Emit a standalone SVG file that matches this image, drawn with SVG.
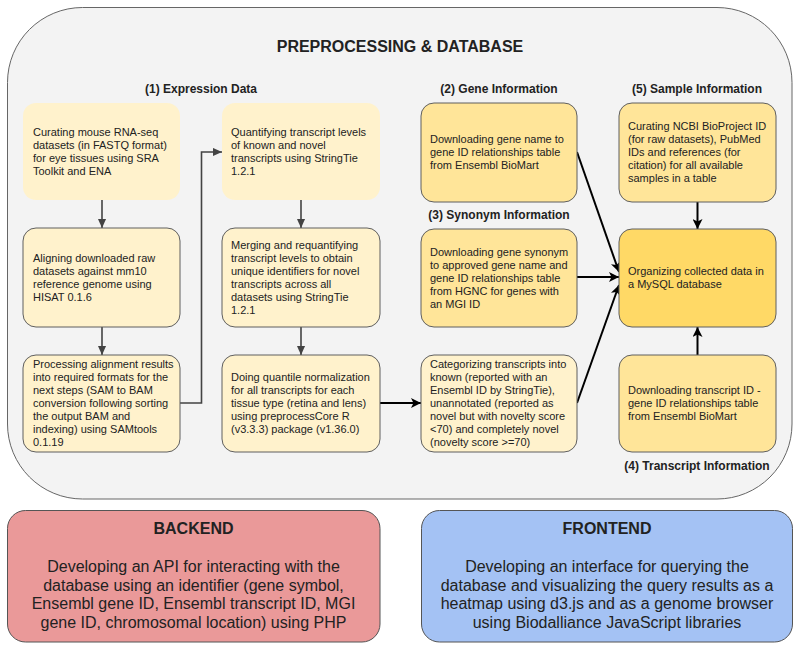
<svg xmlns="http://www.w3.org/2000/svg" width="800" height="649" viewBox="0 0 800 649">
<defs>
<style>
text{font-family:"Liberation Sans",Arial,sans-serif;fill:#222}
.t{font-size:11px}
.h{font-size:12px;font-weight:bold;text-anchor:middle}
.big{font-size:16px;font-weight:bold;text-anchor:middle}
.body{font-size:16px;text-anchor:middle}
.c1{fill:#fff2cc}
.c2{fill:#fff2cc;stroke:#5f5f5f;stroke-width:1}
.c3{fill:#ffe599;stroke:#5f5f5f;stroke-width:1}
.c4{fill:#ffd966;stroke:#5f5f5f;stroke-width:1}
.g{stroke:#434343;stroke-width:1.6;fill:none}
.k{stroke:#000;stroke-width:2;fill:none}
</style>
<marker id="ag" viewBox="0 0 10 10" refX="10" refY="5" markerWidth="10" markerHeight="9" orient="auto" markerUnits="userSpaceOnUse"><path d="M0,0.5 L10,5 L0,9.5 z" fill="#434343"/></marker>
<marker id="ak" viewBox="0 0 10 10" refX="10" refY="5" markerWidth="11" markerHeight="10" orient="auto" markerUnits="userSpaceOnUse"><path d="M0,0 L10,5 L0,10 L2.5,5 z" fill="#000"/></marker>
</defs>

<g id="container">
<rect x="7.5" y="7.5" width="784.5" height="491.5" rx="75" ry="75" fill="#f3f3f3" stroke="#666" stroke-width="1"/>
<text class="big" x="400" y="52">PREPROCESSING &amp; DATABASE</text>
<text class="h" x="201" y="93">(1) Expression Data</text>
<text class="h" x="499" y="93">(2) Gene Information</text>
<text class="h" x="697" y="93">(5) Sample Information</text>
<text class="h" x="499" y="219">(3) Synonym Information</text>
<text class="h" x="697" y="470">(4) Transcript Information</text>
</g>

<g id="connectors">
<line class="g" x1="102" y1="200" x2="102" y2="228" marker-end="url(#ag)"/>
<line class="g" x1="102" y1="327" x2="102" y2="355" marker-end="url(#ag)"/>
<line class="g" x1="301" y1="200" x2="301" y2="228" marker-end="url(#ag)"/>
<line class="g" x1="301" y1="327" x2="301" y2="355" marker-end="url(#ag)"/>
<polyline class="g" points="180,403 201.5,403 201.5,152 222,152" marker-end="url(#ag)"/>
<line class="k" x1="380" y1="403" x2="421" y2="403" marker-end="url(#ak)"/>
<line class="k" x1="577" y1="152" x2="619" y2="272" marker-end="url(#ak)"/>
<line class="k" x1="577" y1="277" x2="619" y2="277" marker-end="url(#ak)"/>
<line class="k" x1="577" y1="403" x2="619" y2="285" marker-end="url(#ak)"/>
<line class="k" x1="697.5" y1="202" x2="697.5" y2="229" marker-end="url(#ak)"/>
<line class="k" x1="697.5" y1="355" x2="697.5" y2="327" marker-end="url(#ak)"/>
</g>

<g id="node-curating">
<rect class="c1" x="23" y="103" width="157" height="97" rx="13"/>
<text class="t"><tspan x="33" y="135.9">Curating mouse RNA-seq</tspan><tspan x="33" y="148.9">datasets (in FASTQ format)</tspan><tspan x="33" y="161.9">for eye tissues using SRA</tspan><tspan x="33" y="174.9">Toolkit and ENA</tspan></text>
</g>

<g id="node-quantifying">
<rect class="c1" x="222" y="103" width="158" height="97" rx="13"/>
<text class="t"><tspan x="231" y="135.9">Quantifying transcript levels</tspan><tspan x="231" y="148.9">of known and novel</tspan><tspan x="231" y="161.9">transcripts using StringTie</tspan><tspan x="231" y="174.9">1.2.1</tspan></text>
</g>

<g id="node-aligning">
<rect class="c2" x="23" y="228" width="157" height="99" rx="13"/>
<text class="t"><tspan x="33" y="261.9">Aligning downloaded raw</tspan><tspan x="33" y="274.9">datasets against mm10</tspan><tspan x="33" y="287.9">reference genome using</tspan><tspan x="33" y="300.9">HISAT 0.1.6</tspan></text>
</g>

<g id="node-merging">
<rect class="c2" x="222" y="228" width="158" height="99" rx="13"/>
<text class="t"><tspan x="231" y="248.9">Merging and requantifying</tspan><tspan x="231" y="261.9">transcript levels to obtain</tspan><tspan x="231" y="274.9">unique identifiers for novel</tspan><tspan x="231" y="287.9">transcripts across all</tspan><tspan x="231" y="300.9">datasets using StringTie</tspan><tspan x="231" y="313.9">1.2.1</tspan></text>
</g>

<g id="node-processing">
<rect class="c2" x="23" y="355" width="157" height="97" rx="13"/>
<text class="t"><tspan x="33" y="368.4">Processing alignment results</tspan><tspan x="33" y="381.4">into required formats for the</tspan><tspan x="33" y="394.4">next steps (SAM to BAM</tspan><tspan x="33" y="407.4">conversion following sorting</tspan><tspan x="33" y="420.4">the output BAM and</tspan><tspan x="33" y="433.4">indexing) using SAMtools</tspan><tspan x="33" y="446.4">0.1.19</tspan></text>
</g>

<g id="node-normalization">
<rect class="c2" x="222" y="355" width="158" height="97" rx="13"/>
<text class="t"><tspan x="231" y="381.4">Doing quantile normalization</tspan><tspan x="231" y="394.4">for all transcripts for each</tspan><tspan x="231" y="407.4">tissue type (retina and lens)</tspan><tspan x="231" y="420.4">using preprocessCore R</tspan><tspan x="231" y="433.4">(v3.3.3) package (v1.36.0)</tspan></text>
</g>

<g id="node-gene">
<rect class="c3" x="421" y="103" width="156" height="99" rx="13"/>
<text class="t"><tspan x="430" y="143.4">Downloading gene name to</tspan><tspan x="430" y="156.4">gene ID relationships table</tspan><tspan x="430" y="169.4">from Ensembl BioMart</tspan></text>
</g>

<g id="node-synonym">
<rect class="c3" x="421" y="229" width="156" height="98" rx="13"/>
<text class="t"><tspan x="430" y="255.9">Downloading gene synonym</tspan><tspan x="430" y="268.9">to approved gene name and</tspan><tspan x="430" y="281.9">gene ID relationships table</tspan><tspan x="430" y="294.9">from HGNC for genes with</tspan><tspan x="430" y="307.9">an MGI ID</tspan></text>
</g>

<g id="node-categorizing">
<rect class="c2" x="421" y="355" width="156" height="97" rx="13"/>
<text class="t"><tspan x="430" y="368.4">Categorizing transcripts into</tspan><tspan x="430" y="381.4">known (reported with an</tspan><tspan x="430" y="394.4">Ensembl ID by StringTie),</tspan><tspan x="430" y="407.4">unannotated (reported as</tspan><tspan x="430" y="420.4">novel but with novelty score</tspan><tspan x="430" y="433.4">&lt;70) and completely novel</tspan><tspan x="430" y="446.4">(novelty score &gt;=70)</tspan></text>
</g>

<g id="node-sample">
<rect class="c3" x="619" y="103" width="157" height="99" rx="13"/>
<text class="t"><tspan x="628" y="130.4">Curating NCBI BioProject ID</tspan><tspan x="628" y="143.4">(for raw datasets), PubMed</tspan><tspan x="628" y="156.4">IDs and references (for</tspan><tspan x="628" y="169.4">citation) for all available</tspan><tspan x="628" y="182.4">samples in a table</tspan></text>
</g>

<g id="node-mysql">
<rect class="c4" x="619" y="229" width="157" height="98" rx="13"/>
<text class="t"><tspan x="628" y="275">Organizing collected data in</tspan><tspan x="628" y="288">a MySQL database</tspan></text>
</g>

<g id="node-transcript">
<rect class="c3" x="619" y="355" width="157" height="97" rx="13"/>
<text class="t"><tspan x="628" y="394.4">Downloading transcript ID -</tspan><tspan x="628" y="407.4">gene ID relationships table</tspan><tspan x="628" y="420.4">from Ensembl BioMart</tspan></text>
</g>

<g id="node-backend">
<rect x="7.5" y="510.5" width="372.5" height="131.5" rx="18" fill="#ea9999" stroke="#555" stroke-width="1"/>
<text class="big" x="193.5" y="533.5">BACKEND</text>
<text class="body"><tspan x="193.5" y="571.7">Developing an API for interacting with the</tspan><tspan x="193.5" y="590.5">database using an identifier (gene symbol,</tspan><tspan x="193.5" y="609.3">Ensembl gene ID, Ensembl transcript ID, MGI</tspan><tspan x="193.5" y="628.1">gene ID, chromosomal location) using PHP</tspan></text>
</g>

<g id="node-frontend">
<rect x="421.5" y="510.5" width="371" height="131.5" rx="18" fill="#a4c2f4" stroke="#555" stroke-width="1"/>
<text class="big" x="607" y="533.5">FRONTEND</text>
<text class="body"><tspan x="607" y="571.7">Developing an interface for querying the</tspan><tspan x="607" y="590.5">database and visualizing the query results as a</tspan><tspan x="607" y="609.3">heatmap using d3.js and as a genome browser</tspan><tspan x="607" y="628.1">using Biodalliance JavaScript libraries</tspan></text>
</g>
</svg>
